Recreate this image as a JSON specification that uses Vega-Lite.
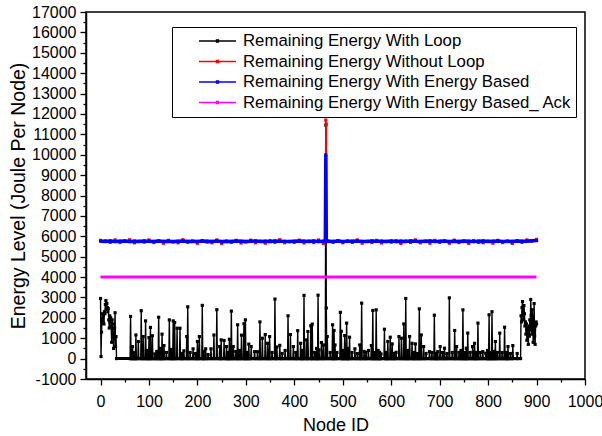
{
"$schema": "https://vega.github.io/schema/vega-lite/v6.json",
"width": 499, "height": 367,
"autosize": "none",
"padding": {"left": 86, "top": 12, "right": 17, "bottom": 57},
"background": "white",
"config": {
 "view": {"stroke": "black", "strokeWidth": 1.5},
 "axis": {"domainColor": "black", "domainWidth": 1.5, "tickColor": "black", "tickWidth": 1.3, "labelColor": "black", "titleColor": "black", "labelFont": "Liberation Sans", "titleFont": "Liberation Sans", "labelFontSize": 16, "titleFontSize": 18, "titleFontWeight": "normal", "grid": false, "labelOverlap": false}
},
"datasets": {
 "black": [
 {"x":0,"y":2950},{"x":1,"y":100},{"x":2,"y":1300},{"x":3,"y":1900},{"x":4,"y":2200},{"x":5,"y":1800},{"x":6,"y":2100},{"x":7,"y":1700},{"x":8,"y":2300},{"x":9,"y":2200},{"x":10,"y":2650},{"x":11,"y":2850},{"x":12,"y":2400},{"x":13,"y":2700},{"x":14,"y":2500},{"x":15,"y":2300},{"x":16,"y":2450},{"x":17,"y":1900},{"x":18,"y":1500},{"x":19,"y":2100},{"x":20,"y":1800},{"x":21,"y":2000},{"x":22,"y":1600},{"x":23,"y":800},{"x":24,"y":1900},{"x":25,"y":1700},{"x":26,"y":1200},{"x":27,"y":500},{"x":28,"y":1000},{"x":29,"y":1500},{"x":30,"y":2250},{"x":31,"y":600},{"x":32,"y":1080},{"x":33,"y":0},
 {"x":61,"y":0},{"x":62,"y":2070},{"x":63,"y":0},{"x":65,"y":0},{"x":66,"y":590},{"x":67,"y":0},{"x":69,"y":0},{"x":70,"y":300},{"x":71,"y":0},{"x":72,"y":0},{"x":73,"y":1160},{"x":74,"y":0},{"x":77,"y":0},{"x":78,"y":840},{"x":79,"y":0},{"x":83,"y":0},{"x":84,"y":2350},{"x":85,"y":0},{"x":87,"y":0},{"x":88,"y":1080},{"x":89,"y":0},{"x":92,"y":0},{"x":93,"y":1850},{"x":94,"y":0},{"x":95,"y":0},{"x":96,"y":400},{"x":97,"y":0},{"x":99,"y":0},{"x":100,"y":1030},{"x":101,"y":0},{"x":102,"y":0},{"x":103,"y":1530},{"x":104,"y":0},{"x":106,"y":0},{"x":107,"y":1120},{"x":108,"y":0},{"x":111,"y":0},{"x":112,"y":230},{"x":113,"y":0},{"x":115,"y":0},{"x":116,"y":350},{"x":117,"y":0},{"x":119,"y":0},{"x":120,"y":2030},{"x":121,"y":0},{"x":123,"y":0},{"x":124,"y":500},{"x":125,"y":0},{"x":126,"y":0},{"x":127,"y":1200},{"x":128,"y":0},{"x":130,"y":0},{"x":131,"y":640},{"x":132,"y":0},{"x":135,"y":0},{"x":136,"y":300},{"x":137,"y":0},{"x":141,"y":0},{"x":142,"y":1900},{"x":143,"y":0},{"x":145,"y":0},{"x":146,"y":450},{"x":147,"y":0},{"x":149,"y":0},{"x":150,"y":1850},{"x":151,"y":0},{"x":152,"y":0},{"x":153,"y":1770},{"x":154,"y":0},{"x":157,"y":0},{"x":158,"y":1490},{"x":159,"y":0},{"x":163,"y":0},{"x":164,"y":1490},{"x":165,"y":0},{"x":167,"y":0},{"x":168,"y":250},{"x":169,"y":0},{"x":171,"y":0},{"x":172,"y":380},{"x":173,"y":0},{"x":177,"y":0},{"x":178,"y":1080},{"x":179,"y":0},{"x":180,"y":2540},{"x":181,"y":0},{"x":184,"y":0},{"x":185,"y":300},{"x":186,"y":0},{"x":190,"y":0},{"x":191,"y":480},{"x":192,"y":0},{"x":195,"y":0},{"x":196,"y":250},{"x":197,"y":0},{"x":199,"y":0},{"x":200,"y":840},{"x":201,"y":0},{"x":203,"y":0},{"x":204,"y":1080},{"x":205,"y":0},{"x":209,"y":0},{"x":210,"y":2610},{"x":211,"y":0},{"x":212,"y":0},{"x":213,"y":350},{"x":214,"y":0},{"x":216,"y":0},{"x":217,"y":480},{"x":218,"y":0},{"x":221,"y":0},{"x":222,"y":200},{"x":223,"y":0},{"x":227,"y":0},{"x":228,"y":480},{"x":229,"y":0},{"x":233,"y":0},{"x":234,"y":1160},{"x":235,"y":0},{"x":239,"y":0},{"x":240,"y":2400},{"x":241,"y":0},{"x":245,"y":0},{"x":246,"y":590},{"x":247,"y":0},{"x":248,"y":0},{"x":249,"y":920},{"x":250,"y":0},{"x":254,"y":0},{"x":255,"y":890},{"x":256,"y":0},{"x":259,"y":0},{"x":260,"y":590},{"x":261,"y":0},{"x":262,"y":0},{"x":263,"y":300},{"x":264,"y":0},{"x":265,"y":0},{"x":266,"y":950},{"x":267,"y":0},{"x":269,"y":0},{"x":270,"y":2330},{"x":271,"y":0},{"x":273,"y":0},{"x":274,"y":590},{"x":275,"y":0},{"x":278,"y":0},{"x":279,"y":350},{"x":280,"y":0},{"x":282,"y":0},{"x":283,"y":1660},{"x":284,"y":0},{"x":286,"y":0},{"x":287,"y":400},{"x":288,"y":0},{"x":290,"y":0},{"x":291,"y":1150},{"x":292,"y":0},{"x":295,"y":0},{"x":296,"y":1710},{"x":297,"y":0},{"x":298,"y":0},{"x":299,"y":1900},{"x":300,"y":0},{"x":302,"y":0},{"x":303,"y":300},{"x":304,"y":0},{"x":305,"y":0},{"x":306,"y":710},{"x":307,"y":0},{"x":310,"y":0},{"x":311,"y":590},{"x":312,"y":0},{"x":317,"y":0},{"x":318,"y":340},{"x":319,"y":0},{"x":323,"y":0},{"x":324,"y":340},{"x":325,"y":0},{"x":328,"y":0},{"x":329,"y":1800},{"x":330,"y":0},{"x":333,"y":0},{"x":334,"y":1000},{"x":335,"y":0},{"x":339,"y":0},{"x":340,"y":1180},{"x":341,"y":0},{"x":344,"y":0},{"x":345,"y":750},{"x":346,"y":0},{"x":348,"y":0},{"x":349,"y":1080},{"x":350,"y":0},{"x":353,"y":0},{"x":354,"y":300},{"x":355,"y":0},{"x":359,"y":0},{"x":360,"y":2920},{"x":361,"y":0},{"x":363,"y":0},{"x":364,"y":570},{"x":365,"y":0},{"x":369,"y":0},{"x":370,"y":650},{"x":371,"y":0},{"x":374,"y":0},{"x":375,"y":250},{"x":376,"y":0},{"x":380,"y":0},{"x":381,"y":400},{"x":382,"y":0},{"x":386,"y":0},{"x":387,"y":2100},{"x":388,"y":0},{"x":391,"y":0},{"x":392,"y":1180},{"x":393,"y":0},{"x":397,"y":0},{"x":398,"y":590},{"x":399,"y":0},{"x":402,"y":0},{"x":403,"y":300},{"x":404,"y":0},{"x":406,"y":0},{"x":407,"y":1370},{"x":408,"y":0},{"x":412,"y":0},{"x":413,"y":750},{"x":414,"y":0},{"x":415,"y":0},{"x":416,"y":400},{"x":417,"y":0},{"x":419,"y":0},{"x":420,"y":3100},{"x":421,"y":0},{"x":424,"y":0},{"x":425,"y":920},{"x":426,"y":0},{"x":427,"y":0},{"x":428,"y":1330},{"x":429,"y":0},{"x":433,"y":0},{"x":434,"y":1610},{"x":435,"y":0},{"x":436,"y":0},{"x":437,"y":1690},{"x":438,"y":0},{"x":441,"y":0},{"x":442,"y":300},{"x":443,"y":0},{"x":445,"y":0},{"x":446,"y":500},{"x":447,"y":0},{"x":448,"y":0},{"x":449,"y":3110},{"x":450,"y":0},{"x":451,"y":430},{"x":452,"y":0},{"x":455,"y":0},{"x":456,"y":790},{"x":457,"y":0},{"x":459,"y":0},{"x":460,"y":670},{"x":461,"y":0},{"x":464,"y":0},{"x":465,"y":11450},{"x":466,"y":2480},{"x":467,"y":0},{"x":468,"y":1080},{"x":469,"y":0},{"x":473,"y":0},{"x":474,"y":300},{"x":475,"y":0},{"x":478,"y":0},{"x":479,"y":1660},{"x":480,"y":0},{"x":481,"y":0},{"x":482,"y":1380},{"x":483,"y":0},{"x":484,"y":670},{"x":485,"y":0},{"x":487,"y":0},{"x":488,"y":300},{"x":489,"y":0},{"x":494,"y":0},{"x":495,"y":2270},{"x":496,"y":0},{"x":497,"y":1340},{"x":498,"y":0},{"x":500,"y":0},{"x":501,"y":400},{"x":502,"y":0},{"x":503,"y":0},{"x":504,"y":1130},{"x":505,"y":0},{"x":507,"y":0},{"x":508,"y":1740},{"x":509,"y":0},{"x":510,"y":0},{"x":511,"y":500},{"x":512,"y":0},{"x":513,"y":0},{"x":514,"y":1050},{"x":515,"y":0},{"x":518,"y":0},{"x":519,"y":300},{"x":520,"y":0},{"x":524,"y":0},{"x":525,"y":480},{"x":526,"y":0},{"x":529,"y":0},{"x":530,"y":250},{"x":531,"y":0},{"x":534,"y":0},{"x":535,"y":670},{"x":536,"y":0},{"x":538,"y":0},{"x":539,"y":2720},{"x":540,"y":0},{"x":543,"y":0},{"x":544,"y":350},{"x":545,"y":0},{"x":547,"y":0},{"x":548,"y":310},{"x":549,"y":0},{"x":552,"y":0},{"x":553,"y":400},{"x":554,"y":0},{"x":558,"y":0},{"x":559,"y":640},{"x":560,"y":0},{"x":561,"y":0},{"x":562,"y":2360},{"x":563,"y":0},{"x":565,"y":0},{"x":566,"y":300},{"x":567,"y":0},{"x":568,"y":0},{"x":569,"y":2390},{"x":570,"y":0},{"x":572,"y":0},{"x":573,"y":400},{"x":574,"y":0},{"x":575,"y":0},{"x":576,"y":310},{"x":577,"y":0},{"x":578,"y":0},{"x":579,"y":230},{"x":580,"y":0},{"x":585,"y":0},{"x":586,"y":1440},{"x":587,"y":0},{"x":589,"y":0},{"x":590,"y":300},{"x":591,"y":0},{"x":592,"y":0},{"x":593,"y":840},{"x":594,"y":0},{"x":597,"y":0},{"x":598,"y":1050},{"x":599,"y":0},{"x":601,"y":0},{"x":602,"y":720},{"x":603,"y":0},{"x":605,"y":0},{"x":606,"y":250},{"x":607,"y":0},{"x":609,"y":0},{"x":610,"y":310},{"x":611,"y":0},{"x":615,"y":0},{"x":616,"y":1080},{"x":617,"y":0},{"x":620,"y":0},{"x":621,"y":1000},{"x":622,"y":0},{"x":625,"y":0},{"x":626,"y":1700},{"x":627,"y":0},{"x":629,"y":0},{"x":630,"y":2950},{"x":631,"y":0},{"x":633,"y":0},{"x":634,"y":400},{"x":635,"y":0},{"x":637,"y":0},{"x":638,"y":1080},{"x":639,"y":0},{"x":642,"y":0},{"x":643,"y":750},{"x":644,"y":0},{"x":646,"y":0},{"x":647,"y":300},{"x":648,"y":0},{"x":649,"y":0},{"x":650,"y":720},{"x":651,"y":0},{"x":653,"y":0},{"x":654,"y":250},{"x":655,"y":0},{"x":657,"y":0},{"x":658,"y":2440},{"x":659,"y":0},{"x":661,"y":0},{"x":662,"y":1160},{"x":663,"y":0},{"x":666,"y":0},{"x":667,"y":590},{"x":668,"y":0},{"x":671,"y":0},{"x":672,"y":250},{"x":673,"y":0},{"x":678,"y":0},{"x":679,"y":340},{"x":680,"y":0},{"x":683,"y":0},{"x":684,"y":300},{"x":685,"y":0},{"x":688,"y":0},{"x":689,"y":2130},{"x":690,"y":0},{"x":692,"y":0},{"x":693,"y":250},{"x":694,"y":0},{"x":695,"y":0},{"x":696,"y":340},{"x":697,"y":0},{"x":700,"y":0},{"x":701,"y":590},{"x":702,"y":0},{"x":705,"y":0},{"x":706,"y":300},{"x":707,"y":0},{"x":709,"y":0},{"x":710,"y":510},{"x":711,"y":0},{"x":714,"y":0},{"x":715,"y":250},{"x":716,"y":0},{"x":719,"y":0},{"x":720,"y":2980},{"x":721,"y":0},{"x":725,"y":0},{"x":726,"y":300},{"x":727,"y":0},{"x":730,"y":0},{"x":731,"y":1380},{"x":732,"y":0},{"x":734,"y":0},{"x":735,"y":590},{"x":736,"y":0},{"x":739,"y":0},{"x":740,"y":300},{"x":741,"y":0},{"x":743,"y":0},{"x":744,"y":400},{"x":745,"y":0},{"x":747,"y":0},{"x":748,"y":2390},{"x":749,"y":0},{"x":751,"y":0},{"x":752,"y":300},{"x":753,"y":0},{"x":754,"y":0},{"x":755,"y":510},{"x":756,"y":0},{"x":757,"y":0},{"x":758,"y":1250},{"x":759,"y":0},{"x":762,"y":0},{"x":763,"y":300},{"x":764,"y":0},{"x":767,"y":0},{"x":768,"y":590},{"x":769,"y":0},{"x":771,"y":0},{"x":772,"y":750},{"x":773,"y":0},{"x":774,"y":0},{"x":775,"y":300},{"x":776,"y":0},{"x":778,"y":0},{"x":779,"y":1740},{"x":780,"y":0},{"x":783,"y":0},{"x":784,"y":300},{"x":785,"y":0},{"x":788,"y":0},{"x":789,"y":340},{"x":790,"y":0},{"x":794,"y":0},{"x":795,"y":260},{"x":796,"y":0},{"x":798,"y":0},{"x":799,"y":400},{"x":800,"y":0},{"x":801,"y":0},{"x":802,"y":2150},{"x":803,"y":0},{"x":804,"y":0},{"x":805,"y":300},{"x":806,"y":0},{"x":807,"y":0},{"x":808,"y":2300},{"x":809,"y":0},{"x":811,"y":0},{"x":812,"y":350},{"x":813,"y":0},{"x":814,"y":0},{"x":815,"y":840},{"x":816,"y":0},{"x":818,"y":0},{"x":819,"y":300},{"x":820,"y":0},{"x":823,"y":0},{"x":824,"y":1250},{"x":825,"y":0},{"x":828,"y":0},{"x":829,"y":300},{"x":830,"y":0},{"x":833,"y":0},{"x":834,"y":1540},{"x":835,"y":0},{"x":837,"y":0},{"x":838,"y":300},{"x":839,"y":0},{"x":840,"y":0},{"x":841,"y":590},{"x":842,"y":0},{"x":845,"y":0},{"x":846,"y":250},{"x":847,"y":0},{"x":850,"y":0},{"x":851,"y":640},{"x":852,"y":0},{"x":859,"y":0},{"x":860,"y":250},{"x":861,"y":0},{"x":867,"y":0},
 {"x":868,"y":2100},{"x":869,"y":1800},{"x":870,"y":2500},{"x":871,"y":2800},{"x":872,"y":2300},{"x":873,"y":1900},{"x":874,"y":2600},{"x":875,"y":2200},{"x":876,"y":1600},{"x":877,"y":1800},{"x":878,"y":1200},{"x":879,"y":1700},{"x":880,"y":900},{"x":881,"y":1500},{"x":882,"y":1300},{"x":883,"y":700},{"x":884,"y":1600},{"x":885,"y":1100},{"x":886,"y":1900},{"x":887,"y":1400},{"x":888,"y":2900},{"x":889,"y":2100},{"x":890,"y":1200},{"x":891,"y":2400},{"x":892,"y":1800},{"x":893,"y":800},{"x":894,"y":1500},{"x":895,"y":2700},{"x":896,"y":1100},{"x":897,"y":700},{"x":898,"y":1600},{"x":899,"y":1800},{"x":900,"y":1700}
 ],
 "red": [
 {"x":0,"y":5800},{"x":10,"y":5780},{"x":20,"y":5700},{"x":30,"y":5820},{"x":40,"y":5690},{"x":50,"y":5760},{"x":60,"y":5830},{"x":70,"y":5680},{"x":80,"y":5750},{"x":90,"y":5710},
 {"x":100,"y":5820},{"x":110,"y":5690},{"x":120,"y":5770},{"x":130,"y":5660},{"x":140,"y":5800},{"x":150,"y":5720},{"x":160,"y":5680},{"x":170,"y":5830},{"x":180,"y":5700},{"x":190,"y":5750},
 {"x":200,"y":5660},{"x":210,"y":5790},{"x":220,"y":5710},{"x":230,"y":5680},{"x":240,"y":5820},{"x":250,"y":5650},{"x":260,"y":5740},{"x":270,"y":5700},{"x":280,"y":5800},{"x":290,"y":5670},
 {"x":300,"y":5720},{"x":310,"y":5810},{"x":320,"y":5680},{"x":330,"y":5750},{"x":340,"y":5660},{"x":350,"y":5790},{"x":360,"y":5700},{"x":370,"y":5830},{"x":380,"y":5680},{"x":390,"y":5740},
 {"x":400,"y":5700},{"x":410,"y":5810},{"x":420,"y":5670},{"x":430,"y":5760},{"x":440,"y":5690},{"x":450,"y":5820},{"x":460,"y":5650},{"x":464,"y":5760},{"x":465,"y":11700},{"x":466,"y":11500},{"x":467,"y":5750},{"x":470,"y":5740},{"x":480,"y":5700},{"x":490,"y":5790},
 {"x":500,"y":5680},{"x":510,"y":5760},{"x":520,"y":5700},{"x":530,"y":5820},{"x":540,"y":5660},{"x":550,"y":5750},{"x":560,"y":5690},{"x":570,"y":5800},{"x":580,"y":5670},{"x":590,"y":5740},
 {"x":600,"y":5710},{"x":610,"y":5790},{"x":620,"y":5650},{"x":630,"y":5760},{"x":640,"y":5700},{"x":650,"y":5820},{"x":660,"y":5680},{"x":670,"y":5740},{"x":680,"y":5660},{"x":690,"y":5800},
 {"x":700,"y":5700},{"x":710,"y":5750},{"x":720,"y":5660},{"x":730,"y":5810},{"x":740,"y":5690},{"x":750,"y":5740},{"x":760,"y":5650},{"x":770,"y":5790},{"x":780,"y":5700},{"x":790,"y":5680},
 {"x":800,"y":5760},{"x":810,"y":5660},{"x":820,"y":5800},{"x":830,"y":5690},{"x":840,"y":5740},{"x":850,"y":5650},{"x":860,"y":5780},{"x":870,"y":5700},{"x":880,"y":5820},{"x":890,"y":5760},{"x":900,"y":5850}
 ],
 "blue": [
 {"x":0,"y":5760},{"x":10,"y":5750},{"x":20,"y":5770},{"x":30,"y":5745},{"x":40,"y":5755},{"x":50,"y":5765},{"x":60,"y":5740},{"x":70,"y":5760},{"x":80,"y":5750},{"x":90,"y":5770},
 {"x":100,"y":5755},{"x":110,"y":5745},{"x":120,"y":5765},{"x":130,"y":5750},{"x":140,"y":5760},{"x":150,"y":5740},{"x":160,"y":5755},{"x":170,"y":5770},{"x":180,"y":5750},{"x":190,"y":5760},
 {"x":200,"y":5745},{"x":210,"y":5765},{"x":220,"y":5755},{"x":230,"y":5750},{"x":240,"y":5770},{"x":250,"y":5740},{"x":260,"y":5760},{"x":270,"y":5750},{"x":280,"y":5765},{"x":290,"y":5755},
 {"x":300,"y":5745},{"x":310,"y":5760},{"x":320,"y":5770},{"x":330,"y":5750},{"x":340,"y":5755},{"x":350,"y":5740},{"x":360,"y":5765},{"x":370,"y":5760},{"x":380,"y":5750},{"x":390,"y":5745},
 {"x":400,"y":5755},{"x":410,"y":5770},{"x":420,"y":5760},{"x":430,"y":5750},{"x":440,"y":5765},{"x":450,"y":5745},{"x":460,"y":5755},{"x":464,"y":5755},{"x":465,"y":10000},{"x":466,"y":5760},{"x":470,"y":5760},{"x":480,"y":5750},{"x":490,"y":5770},
 {"x":500,"y":5740},{"x":510,"y":5760},{"x":520,"y":5755},{"x":530,"y":5765},{"x":540,"y":5750},{"x":550,"y":5745},{"x":560,"y":5770},{"x":570,"y":5760},{"x":580,"y":5755},{"x":590,"y":5750},
 {"x":600,"y":5765},{"x":610,"y":5740},{"x":620,"y":5760},{"x":630,"y":5750},{"x":640,"y":5770},{"x":650,"y":5755},{"x":660,"y":5745},{"x":670,"y":5760},{"x":680,"y":5765},{"x":690,"y":5750},
 {"x":700,"y":5755},{"x":710,"y":5770},{"x":720,"y":5740},{"x":730,"y":5760},{"x":740,"y":5750},{"x":750,"y":5765},{"x":760,"y":5755},{"x":770,"y":5745},{"x":780,"y":5760},{"x":790,"y":5770},
 {"x":800,"y":5750},{"x":810,"y":5755},{"x":820,"y":5765},{"x":830,"y":5740},{"x":840,"y":5760},{"x":850,"y":5750},{"x":860,"y":5770},{"x":870,"y":5755},{"x":880,"y":5760},{"x":890,"y":5780},{"x":900,"y":5790}
 ],
 "magenta": [
 {"x":0,"y":4000},{"x":300,"y":4000},{"x":600,"y":4000},{"x":900,"y":4000}
 ]
},
"encoding": {
 "x": {"field": "x", "type": "quantitative",
  "scale": {"domain": [-30, 1000], "nice": false, "zero": false},
  "axis": {"title": "Node ID", "values": [0,50,100,150,200,250,300,350,400,450,500,550,600,650,700,750,800,850,900,950,1000], "labelExpr": "datum.value % 100 === 0 ? '' + datum.value : ''", "tickSize": {"condition": {"test": "datum.value % 100 === 0", "value": 6}, "value": 3}, "labelPadding": 8, "titlePadding": 7, "labelFlush": false, "labelOverlap": false}},
 "y": {"field": "y", "type": "quantitative",
  "scale": {"domain": [-1000, 17000], "nice": false, "zero": false},
  "axis": {"title": "Energy Level (Joule Per Node)", "titleFontSize": 19.5, "values": [-1000,-500,0,500,1000,1500,2000,2500,3000,3500,4000,4500,5000,5500,6000,6500,7000,7500,8000,8500,9000,9500,10000,10500,11000,11500,12000,12500,13000,13500,14000,14500,15000,15500,16000,16500,17000], "labelExpr": "datum.value % 1000 === 0 ? '' + datum.value : ''", "tickSize": {"condition": {"test": "datum.value % 1000 === 0", "value": 6}, "value": 3}, "labelPadding": 4, "titlePadding": 3, "labelFlush": false, "labelOverlap": false}}
},
"layer": [
 {
  "data": {"name": "black"},
  "mark": {"type": "line", "strokeWidth": 1.4, "point": {"shape": "square", "size": 10, "filled": true}},
  "encoding": {
   "color": {"datum": "Remaining Energy With Loop", "type": "nominal",
    "scale": {"domain": ["Remaining Energy With Loop", "Remaining Energy Without Loop", "Remaining Energy With Energy Based", "Remaining Energy With Energy Based_ Ack"], "range": ["#000000", "#ff0000", "#0000ff", "#ff00ff"]},
    "legend": {"title": null, "orient": "none", "legendX": 86, "legendY": 15, "direction": "vertical", "fillColor": "white", "strokeColor": "black", "padding": 4, "symbolOffset": 22, "labelOffset": 6, "symbolType": "M-1,0H1M-0.05,-0.05H0.05V0.05H-0.05Z", "symbolSize": 1369, "symbolStrokeWidth": 1.5, "clipHeight": 20, "rowPadding": 0.5, "labelFontSize": 16.8, "labelFont": "Liberation Sans", "labelColor": "black", "labelLimit": 500,
     "encode": {"symbols": {"update": {"fill": {"scale": "color", "field": "value"}, "stroke": {"scale": "color", "field": "value"}}}}}}
  }
 },
 {
  "data": {"name": "black"},
  "transform": [{"filter": "datum.y === 0"}],
  "mark": {"type": "line", "strokeWidth": 3, "color": "black"}
 },
 {
  "data": {"name": "red"},
  "mark": {"type": "line", "strokeWidth": 1.5, "point": {"shape": "square", "size": 10, "filled": true}},
  "encoding": {"color": {"datum": "Remaining Energy Without Loop", "type": "nominal"}}
 },
 {
  "data": {"name": "blue"},
  "mark": {"type": "line", "strokeWidth": 3.5, "point": {"shape": "square", "size": 10, "filled": true}},
  "encoding": {"color": {"datum": "Remaining Energy With Energy Based", "type": "nominal"}}
 },
 {
  "data": {"name": "magenta"},
  "mark": {"type": "line", "strokeWidth": 3},
  "encoding": {"color": {"datum": "Remaining Energy With Energy Based_ Ack", "type": "nominal"}}
 }
]
}
